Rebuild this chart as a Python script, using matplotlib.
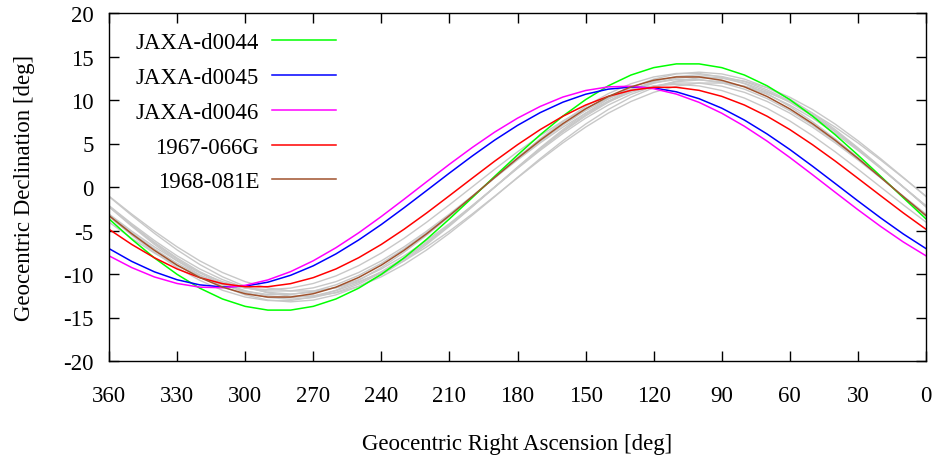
import matplotlib
matplotlib.use("Agg")
import matplotlib.pyplot as plt

# Right ascension sample points [deg], every 10 deg
ra = [0, 10, 20, 30, 40, 50, 60, 70, 80, 90, 100, 110, 120, 130, 140, 150, 160, 170, 180,
      190, 200, 210, 220, 230, 240, 250, 260, 270, 280, 290, 300, 310, 320, 330, 340, 350, 360]

# Declination tracks [deg]
dec_jaxa_d0044 = [-3.67, -1.24, 1.24, 3.67, 6.00, 8.15, 10.04, 11.63, 12.87, 13.72, 14.15, 14.15,
                  13.72, 12.87, 11.63, 10.04, 8.15, 6.00, 3.67, 1.24, -1.24, -3.67, -6.00, -8.15,
                  -10.04, -11.63, -12.87, -13.72, -14.15, -14.15, -13.72, -12.87, -11.63, -10.04,
                  -8.15, -6.00, -3.67]
dec_jaxa_d0045 = [-7.08, -5.40, -3.55, -1.60, 0.40, 2.39, 4.31, 6.09, 7.69, 9.06, 10.15, 10.94,
                  11.39, 11.49, 11.25, 10.66, 9.75, 8.55, 7.08, 5.40, 3.55, 1.60, -0.40, -2.39,
                  -4.31, -6.09, -7.69, -9.06, -10.15, -10.94, -11.39, -11.49, -11.25, -10.66,
                  -9.75, -8.55, -7.08]
dec_jaxa_d0046 = [-7.91, -6.32, -4.53, -2.61, -0.61, 1.41, 3.39, 5.27, 6.98, 8.48, 9.73, 10.68,
                  11.30, 11.58, 11.51, 11.09, 10.34, 9.26, 7.91, 6.32, 4.53, 2.61, 0.61, -1.41,
                  -3.39, -5.27, -6.98, -8.48, -9.73, -10.68, -11.30, -11.58, -11.51, -11.09,
                  -10.34, -9.26, -7.91]
dec_1967_066g = [-4.86, -2.98, -1.00, 1.00, 2.98, 4.86, 6.60, 8.13, 9.42, 10.42, 11.11, 11.46,
                 11.46, 11.11, 10.42, 9.42, 8.13, 6.60, 4.86, 2.98, 1.00, -1.00, -2.98, -4.86,
                 -6.60, -8.13, -9.42, -10.42, -11.11, -11.46, -11.46, -11.11, -10.42, -9.42,
                 -8.13, -6.60, -4.86]
dec_1968_081e = [-3.29, -1.11, 1.11, 3.29, 5.37, 7.28, 8.98, 10.40, 11.51, 12.27, 12.65, 12.65,
                 12.27, 11.51, 10.40, 8.98, 7.28, 5.37, 3.29, 1.11, -1.11, -3.29, -5.37, -7.28,
                 -8.98, -10.40, -11.51, -12.27, -12.65, -12.65, -12.27, -11.51, -10.40, -8.98,
                 -7.28, -5.37, -3.29]

# Other (unlabelled) tracks, drawn in light gray
gray_01 = [-1.05, 1.05, 3.11, 5.07, 6.88, 8.49, 9.83, 10.88, 11.59, 11.95, 11.95, 11.59, 10.88,
           9.83, 8.49, 6.88, 5.07, 3.11, 1.05, -1.05, -3.11, -5.07, -6.88, -8.49, -9.83, -10.88,
           -11.59, -11.95, -11.95, -11.59, -10.88, -9.83, -8.49, -6.88, -5.07, -3.11, -1.05]
gray_02 = [-1.10, 1.10, 3.26, 5.32, 7.23, 8.91, 10.32, 11.42, 12.17, 12.55, 12.55, 12.17, 11.42,
           10.32, 8.91, 7.23, 5.32, 3.26, 1.10, -1.10, -3.26, -5.32, -7.23, -8.91, -10.32, -11.42,
           -12.17, -12.55, -12.55, -12.17, -11.42, -10.32, -8.91, -7.23, -5.32, -3.26, -1.10]
gray_03 = [-2.14, 0, 2.14, 4.21, 6.15, 7.91, 9.42, 10.65, 11.56, 12.11, 12.30, 12.11, 11.56,
           10.65, 9.42, 7.91, 6.15, 4.21, 2.14, 0, -2.14, -4.21, -6.15, -7.91, -9.42, -10.65,
           -11.56, -12.11, -12.30, -12.11, -11.56, -10.65, -9.42, -7.91, -6.15, -4.21, -2.14]
gray_04 = [-2.24, 0, 2.24, 4.41, 6.45, 8.29, 9.88, 11.17, 12.12, 12.70, 12.90, 12.70, 12.12,
           11.17, 9.88, 8.29, 6.45, 4.41, 2.24, 0, -2.24, -4.41, -6.45, -8.29, -9.88, -11.17,
           -12.12, -12.70, -12.90, -12.70, -12.12, -11.17, -9.88, -8.29, -6.45, -4.41, -2.24]
gray_05 = [-2.29, 0, 2.29, 4.51, 6.60, 8.48, 10.11, 11.43, 12.40, 13.00, 13.20, 13.00, 12.40,
           11.43, 10.11, 8.48, 6.60, 4.51, 2.29, 0, -2.29, -4.51, -6.60, -8.48, -10.11, -11.43,
           -12.40, -13.00, -13.20, -13.00, -12.40, -11.43, -10.11, -8.48, -6.60, -4.51, -2.29]
gray_06 = [-3.21, -1.08, 1.08, 3.21, 5.24, 7.11, 8.77, 10.16, 11.24, 11.98, 12.35, 12.35, 11.98,
           11.24, 10.16, 8.77, 7.11, 5.24, 3.21, 1.08, -1.08, -3.21, -5.24, -7.11, -8.77, -10.16,
           -11.24, -11.98, -12.35, -12.35, -11.98, -11.24, -10.16, -8.77, -7.11, -5.24, -3.21]
gray_07 = [-2.20, 0, 2.20, 4.34, 6.35, 8.16, 9.73, 11.00, 11.93, 12.51, 12.70, 12.51, 11.93,
           11.00, 9.73, 8.16, 6.35, 4.34, 2.20, 0, -2.20, -4.34, -6.35, -8.16, -9.73, -11.00,
           -11.93, -12.51, -12.70, -12.51, -11.93, -11.00, -9.73, -8.16, -6.35, -4.34, -2.20]
gray_08 = [-4.04, -2.05, 0, 2.05, 4.04, 5.90, 7.59, 9.04, 10.22, 11.09, 11.62, 11.80, 11.62,
           11.09, 10.22, 9.04, 7.59, 5.90, 4.04, 2.05, 0, -2.05, -4.04, -5.90, -7.59, -9.04,
           -10.22, -11.09, -11.62, -11.80, -11.62, -11.09, -10.22, -9.04, -7.59, -5.90, -4.04]
gray_09 = [-3.39, -1.14, 1.14, 3.39, 5.54, 7.51, 9.26, 10.73, 11.87, 12.65, 13.05, 13.05, 12.65,
           11.87, 10.73, 9.26, 7.51, 5.54, 3.39, 1.14, -1.14, -3.39, -5.54, -7.51, -9.26, -10.73,
           -11.87, -12.65, -13.05, -13.05, -12.65, -11.87, -10.73, -9.26, -7.51, -5.54, -3.39]
gray_10 = [-3.11, -1.05, 1.05, 3.11, 5.07, 6.88, 8.49, 9.83, 10.88, 11.59, 11.95, 11.95, 11.59,
           10.88, 9.83, 8.49, 6.88, 5.07, 3.11, 1.05, -1.05, -3.11, -5.07, -6.88, -8.49, -9.83,
           -10.88, -11.59, -11.95, -11.95, -11.59, -10.88, -9.83, -8.49, -6.88, -5.07, -3.11]

gray_tracks = [gray_01, gray_02, gray_03, gray_04, gray_05,
               gray_06, gray_07, gray_08, gray_09, gray_10]

labels = ["JAXA-d0044", "JAXA-d0045", "JAXA-d0046", "1967-066G", "1968-081E"]
tracks = [dec_jaxa_d0044, dec_jaxa_d0045, dec_jaxa_d0046, dec_1967_066g, dec_1968_081e]
colors = ["#00ff00", "#0000ff", "#ff00ff", "#ff0000", "#a0522d"]

x_ticks = [0, 30, 60, 90, 120, 150, 180, 210, 240, 270, 300, 330, 360]
y_ticks = [-20, -15, -10, -5, 0, 5, 10, 15, 20]

plt.rcParams["font.family"] = ["Liberation Serif", "DejaVu Serif"]
plt.rcParams["axes.unicode_minus"] = False
FS = 16.5

fig = plt.figure(figsize=(9.35, 4.6), dpi=100)
ax = fig.add_axes([109 / 935, 1 - 362 / 460, (926 - 109) / 935, (362 - 14) / 460])

for g in gray_tracks:
    ax.plot(ra, g, color="#c8c8c8", lw=1.0, zorder=1)
for lab, d, c in zip(labels, tracks, colors):
    ax.plot(ra, d, color=c, lw=1.1, label=lab, zorder=2)

ax.set_xlim(360, 0)
ax.set_ylim(-20, 20)
ax.set_xticks(x_ticks)
ax.set_yticks(y_ticks)
ax.tick_params(direction="in", length=7.5, width=1.0, top=True, right=True,
               labelsize=FS)
ax.tick_params(axis="x", pad=17)
ax.tick_params(axis="y", pad=11)
for s in ax.spines.values():
    s.set_linewidth(1.0)

ax.set_xlabel("Geocentric Right Ascension [deg]", fontsize=FS, labelpad=20)
ax.set_ylabel("Geocentric Declination [deg]", fontsize=FS, labelpad=20)

leg = ax.legend(loc="upper right", bbox_to_anchor=((336 - 109) / 817, 0.945),
                frameon=False, markerfirst=False, alignment="right",
                handlelength=2.8, handletextpad=0.55, labelspacing=0.6,
                borderpad=0, borderaxespad=0, fontsize=FS)

fig.savefig("out.png", dpi=100)
